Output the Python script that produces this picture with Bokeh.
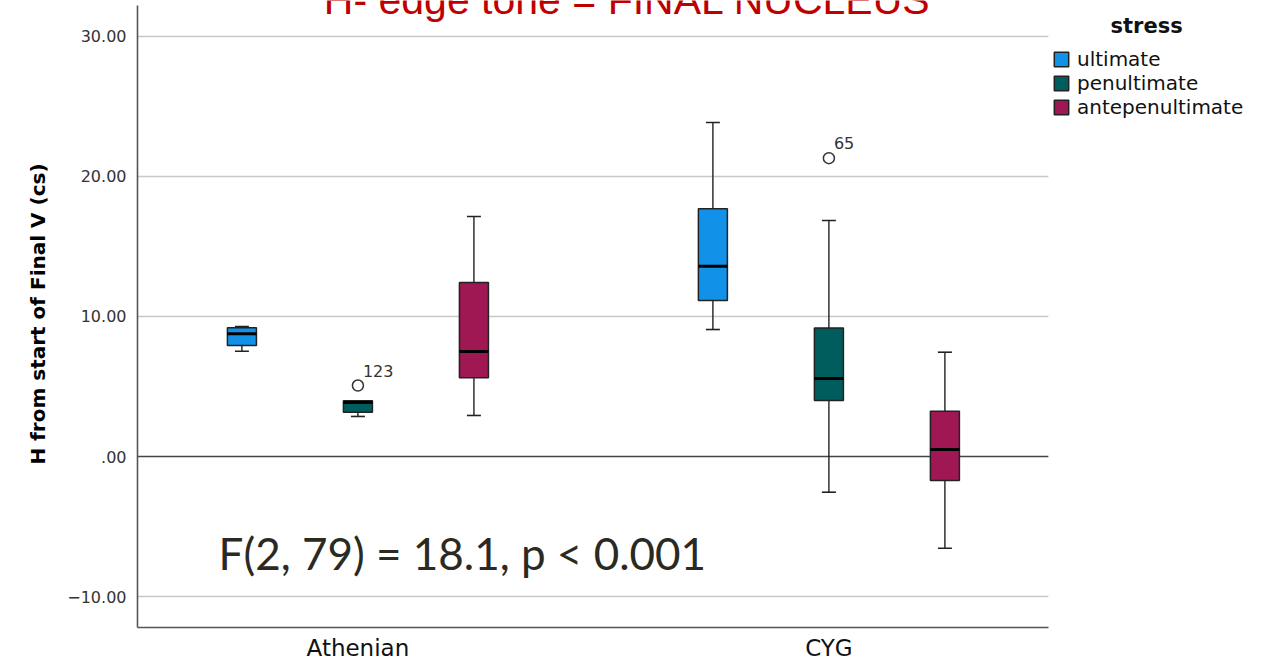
from bokeh.plotting import figure
from bokeh.models import (Range1d, FixedTicker, Label, Legend, LegendItem,
                          ColumnDataSource)
from bokeh.embed import file_html
from bokeh.resources import INLINE
from bokeh.core.properties import value

# ---------------- data ----------------
groups = ["Athenian", "CYG"]
stress = ["ultimate", "penultimate", "antepenultimate"]
colors = ["#1192e8", "#005d5d", "#9f1853"]

# one list per group, ordered as `stress`
lower_whisker = {"Athenian": [7.52, 2.86, 2.93], "CYG": [9.07, -2.55, -6.55]}
q1 = {"Athenian": [7.93, 3.16, 5.62], "CYG": [11.14, 4.00, -1.71]}
median = {"Athenian": [8.76, 3.86, 7.50], "CYG": [13.59, 5.57, 0.50]}
q3 = {"Athenian": [9.19, 3.98, 12.43], "CYG": [17.69, 9.17, 3.24]}
upper_whisker = {"Athenian": [9.29, 3.98, 17.14], "CYG": [23.86, 16.86, 7.45]}

outlier_group = ["Athenian", "CYG"]
outlier_stress = ["penultimate", "penultimate"]
outlier_value = [5.07, 21.31]
outlier_id = ["123", "65"]

y_ticks = [-10, 0, 10, 20, 30]
y_tick_labels = ["\u221210.00", ".00", "10.00", "20.00", "30.00"]

title_text = "H- edge tone = FINAL NUCLEUS"
y_label = "H from start of Final V (cs)"
stat_text = "F(2, 79) = 18.1, p < 0.001"
legend_title = "stress"

# ---------------- layout ----------------
dodge = [-0.2463, 0.0, 0.2463]
box_w = 0.0616
cap_px = 14
group_pos = {g: i + 1 for i, g in enumerate(groups)}
area_x = (0.532, 2.466)          # extent of the plotting area (axis / grid lines)
area_y = (-12.214, 32.21)

p = figure(width=1273, height=663, output_backend="svg", toolbar_location=None,
           x_range=Range1d(area_x[0], 2.944), y_range=Range1d(area_y[0], 32.571),
           min_border_left=137, min_border_right=0, min_border_top=0,
           min_border_bottom=36, outline_line_color=None,
           background_fill_color="white", border_fill_color="white")

p.xgrid.visible = False
p.ygrid.visible = False

# horizontal grid lines (zero line darker), limited to the plotting area
grid_src = ColumnDataSource(dict(
    y=y_ticks,
    x0=[area_x[0]] * len(y_ticks),
    x1=[area_x[1]] * len(y_ticks),
    c=["#444444" if t == 0 else "#c8c8c8" for t in y_ticks],
    w=[1.6 if t == 0 else 1.3 for t in y_ticks],
))
p.segment(x0="x0", y0="y", x1="x1", y1="y", source=grid_src,
          line_color="c", line_width="w")

# axes
p.yaxis.ticker = FixedTicker(ticks=y_ticks)
p.yaxis.major_label_overrides = {t: l for t, l in zip(y_ticks, y_tick_labels)}
p.yaxis.major_label_text_font = "DejaVu Sans"
p.yaxis.major_label_text_font_size = "16px"
p.yaxis.major_label_text_color = "#333333"
p.yaxis.major_label_standoff = 5
p.yaxis.bounds = area_y
p.yaxis.axis_label = y_label
p.yaxis.axis_label_text_font = "DejaVu Sans"
p.yaxis.axis_label_text_font_style = "bold"
p.yaxis.axis_label_text_font_size = "20px"
p.yaxis.axis_label_text_color = "#000000"
p.yaxis.axis_label_standoff = 14
p.xaxis.ticker = FixedTicker(ticks=[group_pos[g] for g in groups])
p.xaxis.major_label_overrides = {group_pos[g]: g for g in groups}
p.xaxis.major_label_text_font = "DejaVu Sans"
p.xaxis.major_label_text_font_size = "23px"
p.xaxis.major_label_text_color = "#111111"
p.xaxis.major_label_standoff = 1
p.xaxis.bounds = area_x
for ax in (p.xaxis, p.yaxis):
    ax.axis_line_color = "#555555"
    ax.axis_line_width = 1.6
    ax.major_tick_line_color = None
    ax.minor_tick_line_color = None

legend_items = []
for si, s in enumerate(stress):
    xs = [group_pos[g] + dodge[si] for g in groups]
    src = ColumnDataSource(dict(
        x=xs,
        lw=[lower_whisker[g][si] for g in groups],
        q1=[q1[g][si] for g in groups],
        med=[median[g][si] for g in groups],
        q3=[q3[g][si] for g in groups],
        uw=[upper_whisker[g][si] for g in groups],
        xl=[x - box_w / 2 for x in xs],
        xr=[x + box_w / 2 for x in xs],
    ))
    p.segment(x0="x", y0="lw", x1="x", y1="uw", source=src,
              line_color="#222222", line_width=1.4)
    p.scatter(x="x", y="lw", source=src, marker="dash", size=cap_px,
              line_color="#222222", line_width=1.6)
    p.scatter(x="x", y="uw", source=src, marker="dash", size=cap_px,
              line_color="#222222", line_width=1.6)
    r = p.vbar(x="x", width=box_w, bottom="q1", top="q3", source=src,
               fill_color=colors[si], line_color="#222222", line_width=1.5)
    p.segment(x0="xl", y0="med", x1="xr", y1="med", source=src,
              line_color="#000000", line_width=3)
    legend_items.append(LegendItem(label=s, renderers=[r]))

# outliers
out_src = ColumnDataSource(dict(
    x=[group_pos[g] + dodge[stress.index(s)] for g, s in zip(outlier_group, outlier_stress)],
    y=outlier_value, id=outlier_id))
p.scatter(x="x", y="y", source=out_src, marker="circle", size=11,
          fill_color="white", line_color="#333333", line_width=1.5)
p.text(x="x", y="y", text="id", source=out_src, x_offset=5, y_offset=-15,
       text_font=value("DejaVu Sans"), text_font_size="16px",
       text_color="#333333", text_baseline="middle", text_align="left")

legend = Legend(items=legend_items, location=(910, 503), orientation="vertical",
                title="\u00a0" * 8 + legend_title, title_text_font="DejaVu Sans",
                title_text_font_style="bold", title_text_font_size="21px",
                title_text_color="#111111", title_standoff=9,
                glyph_width=18, glyph_height=18, label_height=18, spacing=0,
                label_standoff=7, padding=5, margin=0,
                label_text_font="DejaVu Sans", label_text_font_size="20px",
                label_text_color="#111111",
                border_line_alpha=0, background_fill_alpha=0)
p.add_layout(legend)

p.add_layout(Label(x=81, y=75, x_units="screen", y_units="screen",
                   text=stat_text, text_font="Lato", text_font_size="44px",
                   text_align="left", text_baseline="alphabetic", text_color="#2a2a22"))

p.add_layout(Label(x=490, y=628, x_units="screen", y_units="screen",
                   text=title_text, text_font="Liberation Sans", text_font_size="41px",
                   text_align="center", text_baseline="alphabetic", text_color="#c00000"))

open("out.html", "w").write(file_html(p, INLINE))
